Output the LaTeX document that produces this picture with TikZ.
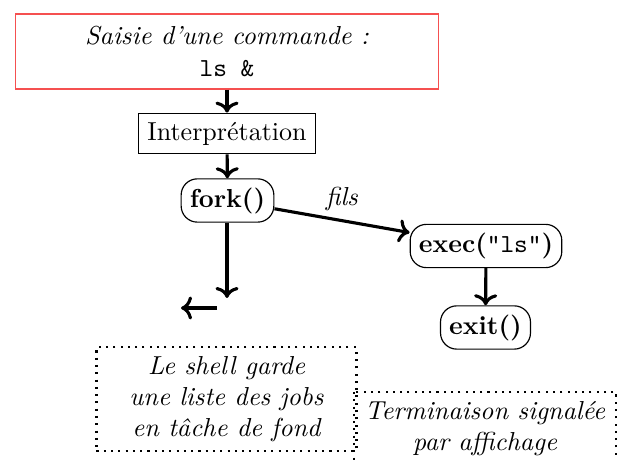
\documentclass[tikz,border=0pt]{standalone}
\usetikzlibrary{arrows.meta}
\definecolor{boxred}{RGB}{245,80,80}
\begin{document}
\begin{tikzpicture}[x=0.3846pt,y=-0.3846pt,
  plainbox/.style={draw,line width=0.45pt,inner sep=0.333em},
  roundbox/.style={draw,line width=0.45pt,rounded corners=2.2mm,inner sep=0.333em},
  noteline/.style={thick,dotted},
  notebox/.style={draw,noteline,align=center,inner sep=0.333em,font=\itshape},
  flow/.style={->,line width=1.2pt}]
\useasboundingbox (0,0) rectangle (623,460);
\node[plainbox,draw=boxred,minimum width=163pt,minimum height=28.8pt,align=center] (cmd) at (227,51.5)
  {\textit{Saisie d'une commande :}\\\texttt{ls \&}};
\node[plainbox] (interp) at (227,133.5) {Interprétation};
\node[roundbox] (fork) at (227.5,200.5) {\textbf{fork()}};
\node[roundbox] (exec) at (486,246) {\textbf{exec(}\texttt{"ls"}\textbf{)}};
\node[roundbox] (exit) at (485.5,327.5) {\textbf{exit()}};
\node[notebox,minimum width=100pt,minimum height=37.7pt] (bg) at (226.5,399) {Le shell garde\\une liste des jobs\\en tâche de fond};
\node[notebox,draw=none,minimum width=100pt,anchor=north] (term) at (485,392) {Terminaison signalée\\par affichage};
\draw[noteline] (term.north west) rectangle ([yshift=-20pt]term.south east);
\coordinate (down) at (227,298);
\coordinate (lfrom) at (217,308);
\coordinate (lto) at (181,308);
\draw[flow] (cmd.south -| interp.north) -- (interp.north);
\draw[flow] (interp) -- (fork);
\draw[flow] (fork) -- node[midway,above]{\textit{fils}} (exec);
\draw[flow] (fork.south -| down) -- (down);
\draw[flow] (lfrom) -- (lto);
\draw[flow] (exec) -- (exit);
\end{tikzpicture}
\end{document}
